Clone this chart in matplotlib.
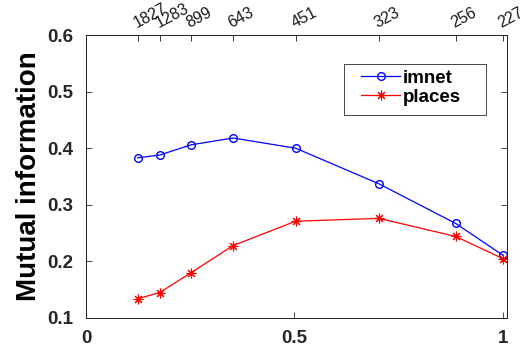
import matplotlib.pyplot as plt
from matplotlib.patches import Rectangle

# sample counts shown on the top axis, and the x positions they map to
counts = ['1827', '1283', '899', '643', '451', '323', '256', '227']
x_vals = [0.124, 0.177, 0.252, 0.353, 0.503, 0.703, 0.887, 1.0]

imnet = [0.383, 0.388, 0.406, 0.418, 0.400, 0.337, 0.267, 0.211]
places = [0.134, 0.145, 0.180, 0.228, 0.271, 0.276, 0.244, 0.205]

plt.rcParams['font.family'] = ['Liberation Sans', 'DejaVu Sans']

fig = plt.figure(figsize=(5.26, 3.54), dpi=100)
ax = fig.add_axes([0.1635, 0.1017, 0.8004, 0.7994])

ax.plot(x_vals, imnet, color='#0000ff', marker='o', markersize=5.5,
        markerfacecolor='none', linewidth=0.9, label='imnet')
ax.plot(x_vals, places, color='#ff0000', marker=(8, 2, 0), markersize=7,
        markeredgewidth=0.8, linewidth=0.9, label='places')

ax.set_xlim(0, 1.01)
ax.set_ylim(0.1, 0.6)
ax.set_xticks([0, 0.5, 1])
ax.set_xticklabels(['0', '0.5', '1'])
ax.set_yticks([0.1, 0.2, 0.3, 0.4, 0.5, 0.6])
ax.set_yticklabels(['0.1', '0.2', '0.3', '0.4', '0.5', '0.6'])
for lab in ax.get_xticklabels() + ax.get_yticklabels():
    lab.set_fontweight('bold')
    lab.set_fontsize(13.5)
ax.tick_params(direction='in', length=4, width=0.6, colors='#262626',
               right=True, pad=9)
ax.set_ylabel('Mutual information', fontsize=20, fontweight='bold', labelpad=4)

top = ax.twiny()
top.set_xlim(ax.get_xlim())
top.set_xticks(x_vals)
top.set_xticklabels(counts, rotation=28, fontsize=11.5, ha='left',
                    va='bottom', rotation_mode='anchor')
top.tick_params(direction='in', length=4, width=0.6, colors='#1a1a1a', pad=3)

for a in (ax, top):
    for s in a.spines.values():
        s.set_linewidth(0.7)
        s.set_color('#262626')

# legend box drawn by hand, entries placed inside it
ax.add_patch(Rectangle((0.613, 0.716), 0.337, 0.181, transform=ax.transAxes,
                       facecolor='white', edgecolor='#262626', linewidth=0.6,
                       zorder=4))
leg = ax.legend(loc='upper left', bbox_to_anchor=(0.653, 0.877),
                prop={'weight': 'bold', 'size': 13.5}, frameon=False,
                handlelength=2.1, borderpad=0, labelspacing=0.1,
                handletextpad=0.15, borderaxespad=0)
leg.set_zorder(5)

plt.savefig('out.png', dpi=100)
